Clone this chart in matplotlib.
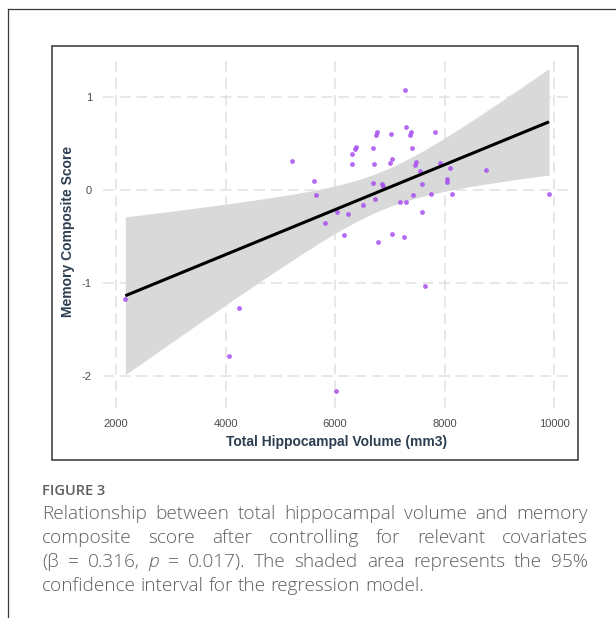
import numpy as np
import matplotlib
matplotlib.use("Agg")
import matplotlib.pyplot as plt
from matplotlib.lines import Line2D
from matplotlib.patches import Rectangle

# data
volume = [7279, 7297, 6773, 6743, 7029, 7393, 7375, 7821, 6378, 6371,
          6694, 7407, 6310, 6310, 6712, 7036, 7005, 7480, 7456, 7918,
          8100, 7553, 8753, 5617, 5653, 6700, 6858, 6871, 7589, 8046,
          8046, 7425, 7759, 8131, 9909, 6731, 6517, 7187, 7297, 6031,
          6243, 7595, 5818, 6159, 7036, 7266, 6786, 5220, 2170, 4241,
          4064, 6024, 7650]
memory = [1.08, 0.68, 0.63, 0.59, 0.60, 0.63, 0.59, 0.63, 0.46, 0.44,
          0.45, 0.45, 0.39, 0.28, 0.28, 0.33, 0.29, 0.30, 0.27, 0.29,
          0.24, 0.20, 0.22, 0.10, -0.05, 0.08, 0.07, 0.04, 0.07, 0.12,
          0.09, -0.05, -0.04, -0.04, -0.04, -0.10, -0.16, -0.13, -0.13, -0.24,
          -0.26, -0.24, -0.36, -0.49, -0.47, -0.51, -0.56, 0.31, -1.18, -1.27,
          -1.79, -2.17, -1.03]
x_ticks = [2000, 4000, 6000, 8000, 10000]
y_ticks = [-2, -1, 0, 1]
y_ticklabels = ["-2", "-1", "0", "1"]

caption_head = "FIGURE 3"
caption_lines = [
    "Relationship between total hippocampal volume and memory",
    "composite score after controlling for relevant covariates",
    "(\u03b2 = 0.316, p = 0.017). The shaded area represents the 95%",
    "confidence interval for the regression model.",
]
italic_words = {"p"}

W, H = 616, 618
def fx(px):
    return px / W
def fy(py):
    return 1 - py / H

plt.rcParams["font.family"] = ["Liberation Sans", "DejaVu Sans"]
fig = plt.figure(figsize=(W / 100, H / 100), dpi=100)

# frames
fig.add_artist(Line2D([fx(8.3), fx(8.3)], [fy(9.3), 0], color="#3a3a3a", lw=0.9))
fig.add_artist(Line2D([fx(8.3), 1], [fy(9.3), fy(9.3)], color="#3a3a3a", lw=0.9))
fig.add_artist(Rectangle((fx(51.7), fy(459.5)), fx(578.3) - fx(51.7), fy(45.7) - fy(459.5),
                         fill=False, edgecolor="#333333", lw=1.1))

ax = fig.add_axes([fx(103), fy(408), fx(570) - fx(103), fy(55) - fy(408)])

x = np.array(volume, dtype=float)
y = np.array(memory, dtype=float)

# linear fit; the band comes from the covariate-adjusted model in the paper,
# so its width multiplier is matched to the figure
n = len(x)
b1, b0 = np.polyfit(x, y, 1)
resid = y - (b0 + b1 * x)
s = np.sqrt(np.sum(resid ** 2) / (n - 2))
sxx = np.sum((x - x.mean()) ** 2)
band_mult = 2.8
xs = np.linspace(x.min(), x.max(), 200)
fit = b0 + b1 * xs
se = s * np.sqrt(1 / n + (xs - x.mean()) ** 2 / sxx)

ax.fill_between(xs, fit - band_mult * se, fit + band_mult * se, color="#d9d9d9", lw=0, zorder=1)
ax.scatter(x, y, s=12, color="#a64ff0", alpha=0.85, lw=0, zorder=3)
ax.plot(xs, fit, color="black", lw=2.2, zorder=4, solid_capstyle="butt")

ax.set_xlim(1762, 10292)
ax.set_ylim(-2.35, 1.456)
ax.set_xticks(x_ticks)
ax.set_xticklabels([str(v) for v in x_ticks])
ax.set_yticks(y_ticks)
ax.set_yticklabels(y_ticklabels)
ax.grid(True, color="#e0e0e0", lw=1.1, ls=(0, (7, 4)), zorder=0)
ax.set_axisbelow(True)
for sp in ax.spines.values():
    sp.set_visible(False)
ax.tick_params(length=0, labelsize=8, labelcolor="#4d4d4d")
ax.tick_params(axis="x", pad=8)
ax.tick_params(axis="y", pad=8)
ax.set_xlabel("Total Hippocampal Volume (mm3)", fontsize=10, fontweight="bold",
              color="#2c3e50", labelpad=4)
ax.set_ylabel("Memory Composite Score", fontsize=10, fontweight="bold",
              color="#2c3e50", labelpad=5)

# caption, justified by hand
cap_font = ["Open Sans", "DejaVu Sans"]
cap_color = "#5f5f5f"
fig.text(fx(42), fy(491), caption_head, fontsize=10.5, fontweight="semibold",
         color=cap_color, family=cap_font, va="center", ha="left")

renderer = fig.canvas.get_renderer()
left, right = 42, 588
line_y = [514, 538, 562, 586]
cap_size = 13.7
for i, line in enumerate(caption_lines):
    words = line.split(" ")
    texts = []
    for w in words:
        style = "italic" if w in italic_words else "normal"
        t = fig.text(0, fy(line_y[i]), w, fontsize=cap_size, color=cap_color, family=cap_font,
                     style=style, fontweight="light", va="center", ha="left")
        texts.append(t)
    widths = [t.get_window_extent(renderer).width for t in texts]
    if i < len(caption_lines) - 1:
        gap = (right - left - sum(widths)) / (len(words) - 1)
    else:
        sp = fig.text(0, 0, "a a", fontsize=cap_size, family=cap_font, fontweight="light")
        sp2 = fig.text(0, 0, "aa", fontsize=cap_size, family=cap_font, fontweight="light")
        gap = sp.get_window_extent(renderer).width - sp2.get_window_extent(renderer).width
        sp.remove()
        sp2.remove()
    pos = left
    for t, wd in zip(texts, widths):
        t.set_x(fx(pos))
        pos += wd + gap

fig.savefig("out.png", dpi=100)
